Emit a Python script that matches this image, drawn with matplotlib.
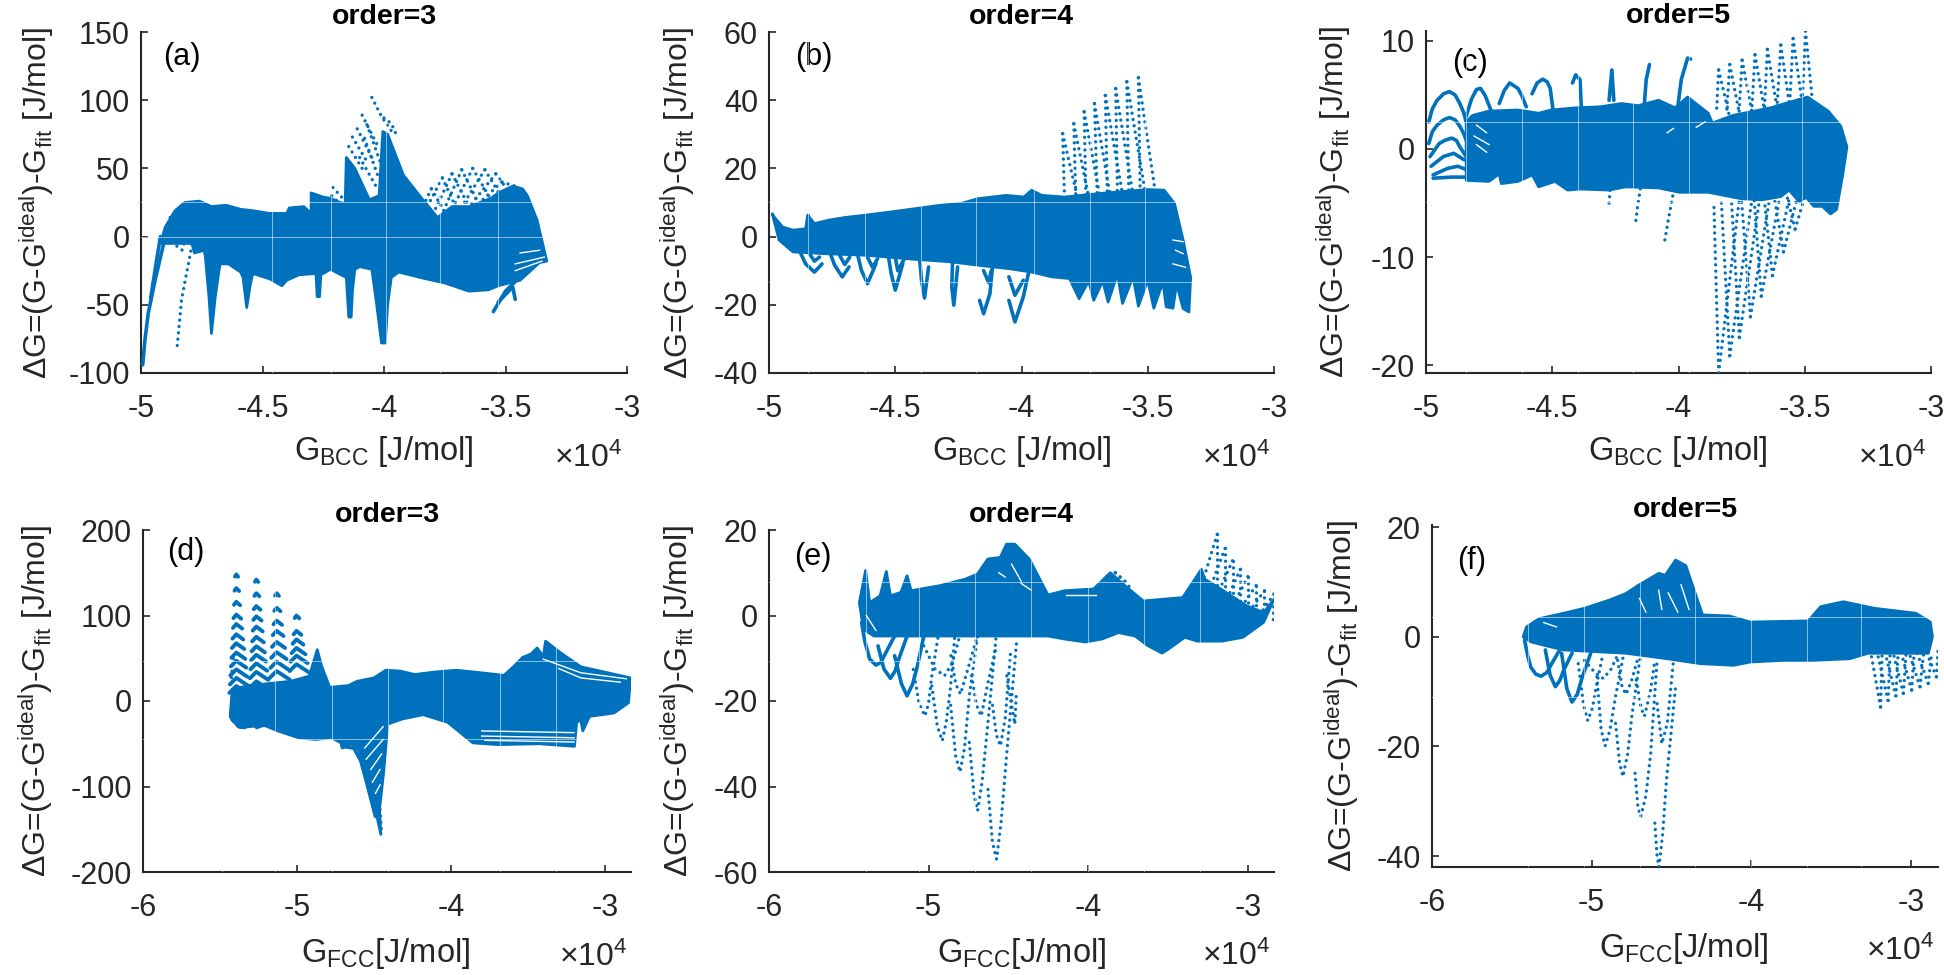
import matplotlib
matplotlib.use('Agg')
from matplotlib import pyplot as plt

plt.rcParams['font.family'] = ['Liberation Sans', 'DejaVu Sans']
plt.rcParams['mathtext.default'] = 'regular'
plt.rcParams['axes.unicode_minus'] = False

AZUL = '#0072BD'
TINTA = '#262626'
LARGURA, ALTURA = 1944, 975

# valores em unidades de 1e4 J/mol no eixo x, J/mol no eixo y
xticks_bcc = [-5, -4.5, -4, -3.5, -3]
xlabels_bcc = ['-5', '-4.5', '-4', '-3.5', '-3']
xticks_fcc = [-6, -5, -4, -3]
xlabels_fcc = ['-6', '-5', '-4', '-3']

# (a) order=3, BCC
a_borda_x = [-4.92, -4.90, -4.86, -4.82, -4.76, -4.71, -4.65, -4.59, -4.54, -4.47, -4.40, -4.39, -4.33, -4.30,
             -4.30, -4.25, -4.22, -4.18, -4.16, -4.155, -4.12, -4.06, -4.02, -4.005, -3.985, -3.92, -3.84, -3.78,
             -3.72, -3.65, -3.56, -3.53, -3.47, -3.43, -3.41, -3.37, -3.33,
             -3.36, -3.44, -3.53, -3.57, -3.65, -3.75, -3.85, -3.94, -3.97, -3.985, -3.995, -4.01, -4.03, -4.05,
             -4.10, -4.12, -4.13, -4.135, -4.145, -4.155, -4.22, -4.26, -4.265, -4.275, -4.28, -4.35, -4.40, -4.42,
             -4.47, -4.54, -4.55, -4.565, -4.58, -4.59, -4.64, -4.675, -4.695, -4.71, -4.72, -4.735, -4.74, -4.78,
             -4.79]
a_borda_y = [-5, 7, 19, 25, 26, 22, 23, 20, 19, 17, 17, 21, 22, 17,
             32, 29, 28, 25, 24, 58, 50, 27, 30, 77, 75, 45, 27, 14,
             22, 22, 28, 32, 37, 35, 30, 12, -18,
             -19, -32, -36, -39, -40, -34, -30, -26, -30, -50, -78, -78, -50, -24,
             -22, -24, -40, -59, -59, -30, -24, -28, -44, -44, -27, -28, -32, -36,
             -31, -27, -35, -52, -30, -26, -20, -20, -45, -71, -45, -15, -10, -12,
             -5]
a_grossos = [([-4.90, -4.942, -4.97, -4.984, -4.993], [0, -32, -56, -76, -94]),
             ([-4.92, -4.94, -4.96], [0, -22, -45]),
             ([-3.55, -3.50, -3.46], [-55, -40, -33]),
             ([-3.53, -3.47, -3.46], [-48, -37, -46])]
a_pontos = [([-4.79, -4.833, -4.853], [-6, -46, -84]),
            ([-4.88, -4.84, -4.795], [14, 5, -3]),
            ([-4.89, -4.85, -4.81], [9, 0, -8]),
            ([-4.90, -4.86, -4.83], [4, -6, -10]),
            ([-4.05, -4.01, -3.96], [102, 88, 75]),
            ([-4.09, -4.03], [89, 68]),
            ([-4.11, -4.05], [79, 58]),
            ([-4.13, -4.07], [73, 55]),
            ([-4.145, -4.09], [66, 50]),
            ([-4.10, -4.03], [58, 36]),
            ([-4.08, -4.02], [72, 42]),
            ([-4.07, -4.01], [82, 52]),
            ([-4.00, -3.97, -3.95], [87, 83, 75]),
            ([-4.21, -4.16], [36, 26]),
            ([-4.215, -4.17], [30, 22])]
a_brancos = [([-3.46, -3.34], [-20, -15]), ([-3.46, -3.35], [-25, -18]), ([-3.44, -3.36], [-12, -10])]
a_pico_x = [-3.805, -3.76, -3.72, -3.68, -3.635, -3.585, -3.54, -3.515]
a_pico_y = [35, 43, 46, 49, 50, 49, 46, 40]
a_pe_esq_x = [-3.84, -3.84, -3.80, -3.76, -3.72, -3.68, -3.64, -3.60]
a_pe_esq_y = [22, 16, 16, 17, 20, 22, 24, 26]
a_pe_dir_x = [-3.75, -3.70, -3.65, -3.61, -3.56, -3.52, -3.49, -3.46]
a_pe_dir_y = [18, 20, 22, 24, 27, 30, 34, 37]

# (b) order=4, BCC
b_borda_x = [-4.987, -4.98, -4.946, -4.905, -4.855, -4.847, -4.82, -4.765, -4.70, -4.617, -4.52, -4.42, -4.32, -4.24,
             -4.174, -4.06, -3.99, -3.96, -3.92, -3.83, -3.665, -3.50, -3.435, -3.394, -3.36, -3.33,
             -3.337, -3.36, -3.386, -3.40, -3.427, -3.44, -3.476, -3.50, -3.537, -3.558, -3.60, -3.62, -3.657,
             -3.678, -3.714, -3.734, -3.772, -3.81, -3.88, -3.96, -4.05, -4.17, -4.28, -4.45, -4.61, -4.78, -4.905,
             -4.96]
b_borda_y = [6.7, 5.8, 2.8, 1.9, 2.3, 6.3, 3.8, 4.8, 5.6, 6.3, 7.2, 8.2, 9.2, 9.7,
             11.1, 12.1, 11.6, 13.6, 12.1, 11.6, 12.8, 13.8, 13.6, 9.7, -1, -12,
             -22.1, -21.1, -13.8, -21, -20.6, -13.3, -21, -12.8, -20.4, -11.8, -19.6, -10.9, -19.2,
             -13, -18.7, -13, -18.2, -12.3, -11.8, -10.4, -9.4, -8.4, -7.4, -6.5, -5.5, -5, -4.5, -1]
b_grossos = [([-4.88, -4.855, -4.82, -4.79], [-4, -8, -10.4, -8]),
             ([-4.757, -4.74, -4.71, -4.683], [-5, -8.4, -11.8, -8.9]),
             ([-4.65, -4.634, -4.61, -4.576], [-5, -9.9, -13.8, -7.9]),
             ([-4.53, -4.516, -4.5, -4.47], [-4.5, -10.9, -15.7, -7.9]),
             ([-4.404, -4.396, -4.384, -4.368], [-6, -12.8, -18, -8.9]),
             ([-4.273, -4.276, -4.268, -4.253], [-7, -14.8, -20.1, -8.9]),
             ([-4.166, -4.15, -4.125, -4.115], [-18.7, -22.6, -16.7, -8.9]),
             ([-4.05, -4.026, -3.993, -3.97], [-18.7, -25, -17.7, -9.9]),
             ([-4.05, -4.026, -3.993], [-11.8, -17.2, -12.8]),
             ([-4.84, -4.82, -4.80], [-5, -7.2, -6]),
             ([-4.72, -4.70, -4.68], [-5.5, -8.2, -6]),
             ([-4.61, -4.59, -4.57], [-6, -9, -6.5]),
             ([-4.50, -4.49, -4.46], [-6, -10, -6]),
             ([-4.15, -4.13, -4.12], [-10, -13.5, -10])]
b_pontos = [([-4.847, -4.847], [6.3, 0])]
b_brancos = [([-3.40, -3.36], [-1, -1.5]), ([-3.39, -3.36], [-4, -5]), ([-3.40, -3.35], [-8, -9])]
b_pico_x = [-3.837, -3.793, -3.752, -3.711, -3.668, -3.627, -3.583, -3.537]
b_pico_y = [30.2, 33.1, 36.6, 39, 41.4, 43.4, 45.4, 46.6]
b_pe_esq_x = [-3.83, -3.785, -3.745, -3.70, -3.66, -3.62, -3.575, -3.53]
b_pe_esq_y = [12, 12, 12, 12, 12, 12.5, 12.5, 13]
b_pe_dir_x = [-3.78, -3.735, -3.69, -3.65, -3.60, -3.56, -3.51, -3.47]
b_pe_dir_y = [12, 12, 12, 12.5, 12.5, 13, 13, 13]

# (c) order=5, BCC
c_borda_x = [-4.841, -4.816, -4.751, -4.636, -4.554, -4.505, -4.407, -4.308, -4.226, -4.16, -4.079, -4.013, -3.964,
             -3.882, -3.866, -3.784, -3.636, -3.489, -3.407, -3.357, -3.333, -3.349, -3.374, -3.398,
             -3.431, -3.464, -3.497, -3.521, -3.562, -3.595, -3.669, -3.751, -3.882, -3.997, -4.079, -4.21, -4.275,
             -4.39, -4.439, -4.489, -4.554, -4.579, -4.636, -4.702, -4.71, -4.751, -4.841]
c_borda_y = [2.5, 3.1, 3.5, 3.6, 3.3, 3.6, 3.8, 3.9, 4.2, 4.0, 4.5, 3.8, 4.8,
             3.3, 2.4, 3.1, 3.8, 4.8, 3.5, 2.1, 0.2, -2.3, -5.6, -6,
             -5.3, -5.3, -4.4, -4.9, -3.8, -4.4, -4.7, -4.6, -4, -4, -3.6, -3.5, -3.8,
             -3.7, -3.8, -3, -3.5, -2.4, -3, -3.2, -2.3, -3, -2.9]
c_grossos = [([-4.989, -4.975, -4.956, -4.93, -4.907, -4.885, -4.866, -4.85, -4.841], [2.5, 3.7, 4.5, 5.1, 5.3, 5.0, 4.2, 3.3, 2.5]),
             ([-4.989, -4.975, -4.956, -4.93, -4.907, -4.885, -4.866, -4.85, -4.841], [0.5, 1.6, 2.2, 2.7, 2.9, 2.7, 2.1, 1.4, 0.8]),
             ([-4.984, -4.948, -4.925, -4.898, -4.88, -4.866, -4.841], [-0.7, 0.5, 0.8, 1, 0.8, 0.2, -0.7]),
             ([-4.98, -4.931, -4.89, -4.849], [-1.6, -0.7, -0.4, -1]),
             ([-4.972, -4.915, -4.874, -4.841], [-2.4, -1.8, -1.6, -1.9]),
             ([-4.972, -4.898, -4.841], [-2.7, -2.6, -2.6]),
             ([-4.841, -4.82, -4.8, -4.784, -4.765, -4.743], [3, 4.6, 5.5, 5.6, 4.9, 3.6]),
             ([-4.71, -4.69, -4.669, -4.636, -4.62, -4.603], [4.2, 5.4, 6.1, 5.6, 4.9, 3.9]),
             ([-4.58, -4.56, -4.538, -4.52, -4.508, -4.497], [5.1, 6.1, 6.45, 6.2, 5.6, 3.6]),
             ([-4.42, -4.407, -4.39, -4.385], [6.1, 6.85, 6.4, 3.9]),
             ([-4.275, -4.264, -4.256], [4.5, 7.3, 4.5]),
             ([-4.136, -4.128, -4.115], [3.9, 6.4, 7.8]),
             ([-4.005, -3.989, -3.964, -3.952], [3.5, 6.4, 8.4, 8.3])]
c_pontos = [([-4.054, -4.04, -4.02], [-8.4, -6.5, -4]),
            ([-4.169, -4.16, -4.15], [-6.6, -5, -3.5]),
            ([-4.275, -4.27], [-5, -3.5])]
c_brancos = [([-4.045, -4.02], [1.5, 1.9]), ([-3.93, -3.895], [2, 2.5]), ([-4.80, -4.76], [2.2, 1.5]),
             ([-4.81, -4.75], [1.2, 0.4]), ([-4.80, -4.76], [0.4, -0.3])]
c_pico_x = [-3.841, -3.797, -3.748, -3.697, -3.648, -3.595, -3.546, -3.497]
c_pico_y = [7.3, 7.8, 8.2, 8.7, 9.2, 9.6, 10.2, 10.9]
c_pe_esq_x = [-3.85, -3.81, -3.76, -3.71, -3.66, -3.61, -3.56, -3.51]
c_pe_esq_y = [3.2, 3.2, 3.4, 3.5, 3.6, 3.8, 4.0, 4.2]
c_pe_dir_x = [-3.80, -3.76, -3.71, -3.66, -3.61, -3.56, -3.51, -3.47]
c_pe_dir_y = [3.2, 3.4, 3.5, 3.6, 3.8, 4.0, 4.2, 4.5]
c_vale_x = [-3.841, -3.797, -3.759, -3.715, -3.672, -3.628, -3.584, -3.538]
c_vale_y = [-20.7, -19.1, -17.4, -15.5, -13.6, -11.7, -9.5, -7.4]
c_vale_esq_x = [-3.86, -3.83, -3.79, -3.75, -3.70, -3.66, -3.62, -3.57]
c_vale_esq_y = [-5, -5, -4.8, -4.8, -4.8, -4.7, -4.6, -4.4]
c_vale_dir_x = [-3.76, -3.71, -3.68, -3.64, -3.60, -3.56, -3.53, -3.50]
c_vale_dir_y = [-4.8, -4.8, -4.8, -4.7, -4.6, -4.4, -4.5, -4.4]

# (d) order=3, FCC
d_borda_x = [-5.434, -5.42, -5.31, -5.043, -4.92, -4.868, -4.84, -4.787, -4.666, -4.61, -4.50, -4.423, -4.33, -4.235,
             -4.10, -3.965, -3.803, -3.655, -3.588, -3.534, -3.48, -3.44, -3.40, -3.385, -3.30, -3.156, -2.833,
             -2.846, -2.94, -3.10, -3.143, -3.156, -3.183, -3.197, -3.426, -3.695, -3.857, -3.884, -4.02, -4.18,
             -4.315, -4.41, -4.437, -4.464, -4.455, -4.49, -4.558, -4.598, -4.652, -4.706, -4.714, -4.774, -4.88,
             -4.99, -5.124, -5.205, -5.26, -5.31, -5.367, -5.42]
d_borda_y = [-18, 14, 18, 23, 29, 60, 41, 16, 18, 23, 27, 36, 35, 31,
             34, 36, 33, 30, 41, 51, 55, 62, 52, 70, 58, 40, 27,
             -2, -14, -18, -35, -22, -25, -53, -50, -51, -49, -45, -25, -16,
             -21, -27, -84, -127, -156, -127, -80, -57, -50, -55, -49, -43, -45,
             -43, -35, -29, -29, -30, -31, -23]
d_coluna_x = [-5.394, -5.264, -5.132, -5.003]
d_coluna_y = [[148, 132, 116, 101, 90, 78, 67.5, 56.6, 47, 37, 27, 17.5],
              [142, 126, 111, 99, 87, 75, 64, 54, 44, 34, 23],
              [126, 109, 94, 82, 69, 57, 46, 35],
              [100, 82, 72, 62, 53, 43]]
d_grossos = [([-4.706, -4.63, -4.585, -4.54, -4.49], [-53, -55, -70, -100, -135]),
             ([-5.42, -5.38, -5.34, -5.30], [-20, -30, -31, -25]),
             ([-5.30, -5.26, -5.22], [-25, -31, -28])]
d_pontos = [([-5.43, -5.41], [20, 55]), ([-4.46, -4.45], [-127, -156])]
d_brancos = [([-3.80, -3.20], [-35, -37]), ([-3.80, -3.20], [-41, -43]), ([-3.78, -3.20], [-46, -48]),
             ([-3.40, -3.156, -2.86], [49, 33, 26]), ([-3.30, -3.156, -2.90], [38, 27, 22]),
             ([-4.56, -4.44], [-55, -30]), ([-4.55, -4.44], [-68, -45]), ([-4.52, -4.45], [-80, -62]),
             ([-4.51, -4.46], [-95, -80]), ([-4.49, -4.46], [-108, -98])]

# (e) order=4, FCC
e_borda_x = [-5.434, -5.395, -5.369, -5.304, -5.265, -5.239, -5.174, -5.135, -5.109, -4.927, -4.771, -4.694, -4.629,
             -4.551, -4.512, -4.46, -4.369, -4.252, -4.148, -3.966, -3.862, -3.758, -3.655, -3.408, -3.291, -3.27,
             -3.17, -3.01, -2.90, -2.836,
             -2.901, -3.031, -3.161, -3.317, -3.395, -3.499, -3.538, -3.629, -3.706, -3.81, -3.914, -4.018, -4.148,
             -4.252, -4.434, -5.343, -5.408]
e_borda_y = [3, 10.5, 3, 4.6, 10.3, 4.6, 5.4, 9.3, 5.8, 7, 8.5, 9.7, 13.2,
             13.6, 16.7, 16.7, 13.2, 4.8, 5.8, 6.2, 10, 6.6, 3.4, 4.2, 10.8, 8.5,
             6.2, 2.3, 0.7, 3.8,
             -1.6, -5.1, -6, -6, -5.1, -7.9, -8.8, -7, -4.8, -4, -5.5, -6.2, -5.5,
             -4.8, -4.8, -4.8, -3.2]
e_grossos = [([-5.42, -5.40, -5.369, -5.33, -5.30, -5.278, -5.213], [-1.6, -6, -10.2, -11.6, -11, -9.4, -4.8]),
             ([-5.317, -5.28, -5.239, -5.21, -5.187, -5.135], [-7.1, -12.5, -14.7, -13, -10.2, -4.8]),
             ([-5.213, -5.17, -5.135, -5.10, -5.07, -5.03], [-9.4, -16, -18.8, -16, -11.8, -4.8])]
e_pontos = [([-5.096, -5.06, -5.023, -5.0, -4.98, -4.94], [-12.6, -20.5, -23.5, -20.5, -14.1, -4.8]),
            ([-4.98, -4.945, -4.914, -4.89, -4.862, -4.836], [-16.5, -26, -29.3, -25, -16.5, -4.8]),
            ([-4.862, -4.83, -4.803, -4.775, -4.745, -4.693], [-21, -33, -36.6, -31, -18.8, -4.8]),
            ([-4.745, -4.715, -4.693, -4.665, -4.628, -4.577], [-29.7, -42, -45.7, -39, -25, -4.8]),
            ([-4.628, -4.60, -4.574, -4.545, -4.512, -4.447], [-40.7, -53, -57, -48, -32.9, -5.5]),
            ([-5.03, -4.96, -4.90, -4.85, -4.81], [-7.1, -12.5, -14.1, -11, -5.5]),
            ([-4.86, -4.83, -4.80, -4.75, -4.70], [-9.4, -16, -18.4, -12, -5.5]),
            ([-4.73, -4.70, -4.67, -4.63, -4.58], [-14.1, -21, -23.5, -16, -7.9]),
            ([-4.60, -4.575, -4.55, -4.52, -4.485], [-21, -28, -30.5, -24, -7.9]),
            ([-4.51, -4.46, -4.45], [-14.1, -25.4, -18])]
e_brancos = [([-4.14, -3.95], [4.9, 4.9]), ([-5.39, -5.33], [0, -3.5]), ([-4.56, -4.52], [10, 9]),
             ([-4.48, -4.42], [12, 8]), ([-4.42, -4.36], [7.5, 6])]
e_pico_x = [-3.192, -3.143, -3.096, -3.047, -3.0, -2.948, -2.896, -2.836, -3.83, -3.80, -3.77]
e_pico_y = [19, 15.7, 12.8, 10.8, 9.1, 7, 5.8, 5, 10, 9, 8]
e_pe_esq_x = [-3.29, -3.24, -3.19, -3.14, -3.09, -3.04, -2.98, -2.91, -3.86, -3.83, -3.80]
e_pe_esq_y = [7, 6, 5, 3, 2.5, 2, 1.5, 1, 6.2, 6.2, 6.2]
e_pe_dir_x = [-3.192, -3.143, -3.096, -3.047, -3.0, -2.948, -2.896, -2.84, -3.80, -3.77, -3.74]
e_pe_dir_y = [5, 3, 2.5, 2, 1.5, 1, 0, -1, 6.6, 6.6, 6.6]

# (f) order=5, FCC
f_borda_x = [-5.429, -5.408, -5.33, -5.175, -5.045, -4.889, -4.785, -4.707, -4.578, -4.539, -4.474, -4.41, -4.305,
             -4.137, -4.007, -3.643, -3.565, -3.423, -3.228, -2.969, -2.878, -2.865, -2.89,
             -3.267, -3.384, -3.617, -3.80, -4.007, -4.11, -4.318, -4.526, -4.785, -5.175, -5.304, -5.382]
f_borda_y = [0, 1.8, 3.3, 4.3, 5.2, 6.7, 7.9, 9.4, 11.6, 11.2, 14, 13, 4,
             3.8, 2.7, 2.9, 5.5, 6.4, 5.2, 4.3, 2.7, 0, -3,
             -3, -4, -4.3, -4.3, -4.6, -5.2, -4.9, -4, -3, -2.4, -1.5, -0.9]
f_grossos = [([-5.42, -5.40, -5.382, -5.35, -5.317, -5.28, -5.25, -5.2], [-0.6, -3.5, -5.5, -6.8, -7.2, -6.5, -4.9, -2.4]),
             ([-5.29, -5.26, -5.227, -5.20, -5.175, -5.123], [-2.4, -7, -9.1, -8, -6.1, -3]),
             ([-5.188, -5.155, -5.123, -5.09, -5.058, -5.006], [-3, -9.5, -11.9, -10.5, -7.3, -3])]
f_pontos = [([-5.084, -5.05, -5.024, -4.995, -4.967, -4.928], [-4.9, -12.5, -15.3, -13, -8.5, -3]),
            ([-4.967, -4.94, -4.915, -4.885, -4.85, -4.798], [-7.3, -17, -19.9, -17, -10.9, -3]),
            ([-4.85, -4.825, -4.804, -4.775, -4.746, -4.694], [-15.8, -23, -25.5, -21.5, -14, -3.6]),
            ([-4.728, -4.71, -4.692, -4.66, -4.63, -4.59], [-24.9, -31, -32.8, -29, -21.3, -4.3]),
            ([-4.604, -4.59, -4.578, -4.555, -4.531, -4.474], [-34, -40, -42, -36, -26.1, -9.1]),
            ([-5.045, -4.98, -4.928, -4.88, -4.837], [-4.3, -6.5, -7.6, -6, -3.3]),
            ([-4.837, -4.81, -4.785, -4.75, -4.707], [-4.3, -9, -10.5, -8, -3.6]),
            ([-4.72, -4.69, -4.669, -4.63, -4.604], [-7.9, -13, -14.5, -9.7, -4.3]),
            ([-4.59, -4.56, -4.526, -4.487], [-12.2, -19.5, -15.8, -4.3])]
f_brancos = [([-4.44, -4.39], [9.5, 5]), ([-4.52, -4.46], [8, 4.5]), ([-4.58, -4.56], [8.5, 5]),
             ([-4.70, -4.66], [7, 4.5]), ([-5.30, -5.22], [2.6, 1.8])]
f_pico_x = [-3.19, -3.143, -3.094, -3.047, -2.995, -2.943, -2.891, -2.84]
f_pico_y = [-12.8, -11.6, -10.8, -10.3, -9.7, -9.1, -8.5, -7.3]
f_pe_esq_x = [-3.25, -3.21, -3.16, -3.11, -3.06, -3.01, -2.96, -2.90]
f_pe_esq_y = [-3, -3, -3, -3, -3, -3, -3, -3]
f_pe_dir_x = [-3.18, -3.13, -3.08, -3.03, -2.98, -2.92, -2.87, -2.83]
f_pe_dir_y = [-3, -3, -3, -3, -3, -3, -3, -2.5]

# linhas claras que cruzam o desenho
a_vlinhas, a_hlinhas = [-4.46, -4.22, -3.99, -3.77, -3.53], [25.5, 0]
b_vlinhas, b_hlinhas = [-4.844, -4.62, -4.40, -4.18, -3.95, -3.73, -3.51], [10.2, -13.3]
c_vlinhas, c_hlinhas = [-4.84, -4.62, -4.40, -4.18, -3.96, -3.73, -3.51], [2.5, -4.9]
d_vlinhas, d_hlinhas = [-5.49, -5.14, -4.77, -4.41, -4.05, -3.68, -3.32], [47, -45]
e_vlinhas, e_hlinhas = [-5.39, -5.06, -4.71, -4.36, -4.0, -3.65, -3.30], [7.9, -10.6]
f_vlinhas, f_hlinhas = [-5.40, -5.05, -4.70, -4.35, -4.0, -3.65, -3.31], [3.6, -10.9]


def criar_eixo(fig, esq, dir_, topo, base):
    return fig.add_axes([esq / LARGURA, 1 - base / ALTURA, (dir_ - esq) / LARGURA, (base - topo) / ALTURA])


def desenhar_faixa(ax, borda_x, borda_y):
    # faixa densa de pontos; a borda grossa arredonda os cantos
    ax.fill(borda_x, borda_y, facecolor=AZUL, edgecolor=AZUL, lw=2.0, joinstyle='round', zorder=2)


def desenhar_pontos(ax, tracos, lw=2.4):
    for xs, ys in tracos:
        ax.plot(xs, ys, color=AZUL, lw=lw, linestyle=(0, (0.01, 1.9)), dash_capstyle='round', zorder=3)


def desenhar_grossos(ax, tracos, lw=2.6):
    for xs, ys in tracos:
        ax.plot(xs, ys, color=AZUL, lw=lw, solid_capstyle='round', zorder=3)


def desenhar_brancos(ax, tracos):
    for xs, ys in tracos:
        ax.plot(xs, ys, color='white', lw=1.0, zorder=4)


def desenhar_leque(ax, pico_x, pico_y, esq_x, esq_y, dir_x, dir_y):
    # cada pico desce em dois ramos pontilhados até a faixa cheia
    for i in range(len(pico_x)):
        desenhar_pontos(ax, [([pico_x[i], esq_x[i]], [pico_y[i], esq_y[i]]),
                             ([pico_x[i], dir_x[i]], [pico_y[i], dir_y[i]])])


def desenhar_colunas(ax, colunas_x, colunas_y):
    # fileiras em forma de V invertido, mais largas perto da faixa
    for x, tops in zip(colunas_x, colunas_y):
        for i, y in enumerate(tops):
            k = (i + 1) / len(tops)
            ax.plot([x - 0.005 - 0.04 * k, x, x + 0.005 + 0.08 * k], [y - 2 - 6 * k, y, y - 2 - 8 * k],
                    color=AZUL, lw=2.8, solid_capstyle='round', zorder=3)


def acabamento(ax, xticks, xlabels, xlim, yticks, ylim, rotulo, titulo, letra, texto_x, letra_pos, xlabel_pos, ylabel_x,
               vezes_pos, vlinhas, hlinhas):
    ax.set_xlim(xlim)
    ax.set_ylim(ylim)
    ax.set_xticks(xticks)
    ax.set_xticklabels(xlabels)
    ax.set_yticks(yticks)
    ax.set_yticklabels([str(v) for v in yticks])
    ax.spines['top'].set_visible(False)
    ax.spines['right'].set_visible(False)
    for lado in ['left', 'bottom']:
        ax.spines[lado].set_linewidth(1.5)
        ax.spines[lado].set_color(TINTA)
    ax.tick_params(direction='in', length=5, width=1.2, color=TINTA, labelcolor=TINTA, labelsize=22)
    ax.tick_params(axis='x', pad=15)
    ax.tick_params(axis='y', pad=8)
    ax.set_title(titulo, fontsize=20.5, fontweight='bold', color='black', pad=6)
    ax.text(letra_pos[0], letra_pos[1], letra, transform=ax.transAxes, fontsize=22, color='black', ha='center', va='center')
    ax.set_xlabel(texto_x, fontsize=23.5, color=TINTA, va='top')
    ax.xaxis.set_label_coords(xlabel_pos[0], xlabel_pos[1])
    ax.text(ylabel_x, 0.5, rotulo, transform=ax.transAxes, rotation=90, fontsize=23, color=TINTA, ha='center', va='center')
    ax.text(vezes_pos[0], vezes_pos[1], '×10$^{4}$', transform=ax.transAxes, fontsize=23, color=TINTA, ha='center', va='center')
    for v in vlinhas:
        ax.axvline(v, color='white', lw=0.7, alpha=0.55, zorder=5)
    for h in hlinhas:
        ax.axhline(h, color='white', lw=0.7, alpha=0.55, zorder=5)


fig = plt.figure(figsize=(LARGURA / 100, ALTURA / 100), dpi=100)
rotulo_y = 'ΔG=(G-G$^{ideal}$)-G$_{fit}$ [J/mol]'
rotulo_bcc = 'G$_{BCC}$ [J/mol]'
rotulo_fcc = 'G$_{FCC}$[J/mol]'

# (a)
ax = criar_eixo(fig, 141, 627, 32, 373)
desenhar_faixa(ax, a_borda_x, a_borda_y)
desenhar_grossos(ax, a_grossos)
desenhar_pontos(ax, a_pontos)
desenhar_leque(ax, a_pico_x, a_pico_y, a_pe_esq_x, a_pe_esq_y, a_pe_dir_x, a_pe_dir_y)
desenhar_brancos(ax, a_brancos)
acabamento(ax, xticks_bcc, xlabels_bcc, (-5, -3), [-100, -50, 0, 50, 100, 150], (-100, 150), rotulo_y, 'order=3', '(a)',
           rotulo_bcc, (0.085, 0.927), (0.5, -0.178), -0.215, (0.92, -0.25), a_vlinhas, a_hlinhas)

# (b)
ax = criar_eixo(fig, 769, 1274, 32, 373)
desenhar_faixa(ax, b_borda_x, b_borda_y)
desenhar_grossos(ax, b_grossos)
desenhar_pontos(ax, b_pontos)
desenhar_leque(ax, b_pico_x, b_pico_y, b_pe_esq_x, b_pe_esq_y, b_pe_dir_x, b_pe_dir_y)
desenhar_brancos(ax, b_brancos)
acabamento(ax, xticks_bcc, xlabels_bcc, (-5, -3), [-40, -20, 0, 20, 40, 60], (-40, 60), rotulo_y, 'order=4', '(b)',
           rotulo_bcc, (0.089, 0.927), (0.5, -0.178), -0.182, (0.926, -0.25), b_vlinhas, b_hlinhas)

# (c)
ax = criar_eixo(fig, 1426, 1931, 31, 373)
desenhar_faixa(ax, c_borda_x, c_borda_y)
desenhar_grossos(ax, c_grossos)
desenhar_pontos(ax, c_pontos)
desenhar_leque(ax, c_pico_x, c_pico_y, c_pe_esq_x, c_pe_esq_y, c_pe_dir_x, c_pe_dir_y)
desenhar_leque(ax, c_vale_x, c_vale_y, c_vale_esq_x, c_vale_esq_y, c_vale_dir_x, c_vale_dir_y)
desenhar_brancos(ax, c_brancos)
acabamento(ax, xticks_bcc, xlabels_bcc, (-5, -3), [-20, -10, 0, 10], (-20.7, 10.9), rotulo_y, 'order=5', '(c)',
           rotulo_bcc, (0.088, 0.906), (0.498, -0.178), -0.183, (0.924, -0.25), c_vlinhas, c_hlinhas)

# (d)
ax = criar_eixo(fig, 143, 631, 530, 872)
desenhar_faixa(ax, d_borda_x, d_borda_y)
desenhar_colunas(ax, d_coluna_x, d_coluna_y)
desenhar_grossos(ax, d_grossos)
desenhar_pontos(ax, d_pontos)
desenhar_brancos(ax, d_brancos)
acabamento(ax, xticks_fcc, xlabels_fcc, (-6, -2.83), [-200, -100, 0, 100, 200], (-200, 200), rotulo_y, 'order=3', '(d)',
           rotulo_fcc, (0.0875, 0.935), (0.497, -0.188), -0.22, (0.922, -0.251), d_vlinhas, d_hlinhas)

# (e)
ax = criar_eixo(fig, 769, 1274, 530, 872)
desenhar_faixa(ax, e_borda_x, e_borda_y)
desenhar_grossos(ax, e_grossos)
desenhar_pontos(ax, e_pontos)
desenhar_leque(ax, e_pico_x, e_pico_y, e_pe_esq_x, e_pe_esq_y, e_pe_dir_x, e_pe_dir_y)
desenhar_brancos(ax, e_brancos)
acabamento(ax, xticks_fcc, xlabels_fcc, (-6, -2.836), [-60, -40, -20, 0, 20], (-60, 20), rotulo_y, 'order=4', '(e)',
           rotulo_fcc, (0.086, 0.922), (0.5, -0.188), -0.182, (0.926, -0.247), e_vlinhas, e_hlinhas)

# (f)
ax = criar_eixo(fig, 1432, 1938, 525, 867)
desenhar_faixa(ax, f_borda_x, f_borda_y)
desenhar_grossos(ax, f_grossos)
desenhar_pontos(ax, f_pontos)
desenhar_leque(ax, f_pico_x, f_pico_y, f_pe_esq_x, f_pe_esq_y, f_pe_dir_x, f_pe_dir_y)
desenhar_brancos(ax, f_brancos)
acabamento(ax, xticks_fcc, xlabels_fcc, (-6, -2.83), [-40, -20, 0, 20], (-42, 20.4), rotulo_y, 'order=5', '(f)',
           rotulo_fcc, (0.079, 0.896), (0.498, -0.188), -0.178, (0.925, -0.246), f_vlinhas, f_hlinhas)

fig.savefig('out.png', dpi=100)
